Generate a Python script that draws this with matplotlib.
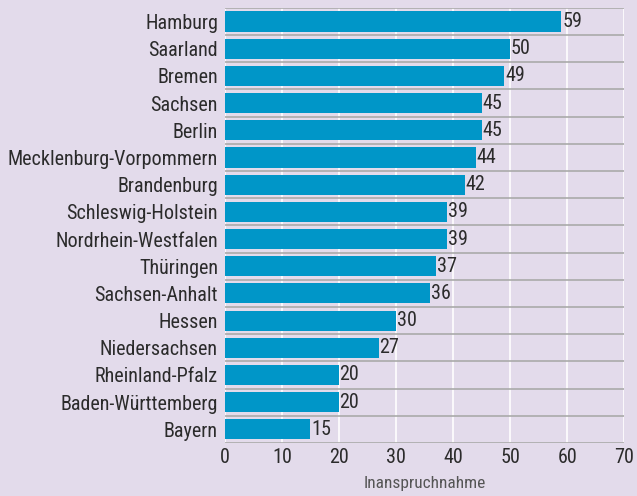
import matplotlib
matplotlib.use("Agg")
import matplotlib.pyplot as plt

states = ["Hamburg", "Saarland", "Bremen", "Sachsen", "Berlin",
          "Mecklenburg-Vorpommern", "Brandenburg", "Schleswig-Holstein",
          "Nordrhein-Westfalen", "Thüringen", "Sachsen-Anhalt", "Hessen",
          "Niedersachsen", "Rheinland-Pfalz", "Baden-Württemberg", "Bayern"]
values = [59, 50, 49, 45, 45, 44, 42, 39, 39, 37, 36, 30, 27, 20, 20, 15]
x_ticks = [0, 10, 20, 30, 40, 50, 60, 70]
x_label = "Inanspruchnahme"

plt.rcParams["font.family"] = ["Roboto Condensed", "DejaVu Sans"]

bg = "#e3dbeb"
bar_color = "#0096c8"
text_color = "#2b2b2b"

fig = plt.figure(figsize=(6.37, 4.96), dpi=100, facecolor=bg)
ax = fig.add_axes([0.353, 0.107, 0.627, 0.877], facecolor=bg)

n = len(states)
pos = list(range(n))
ax.barh(pos, values, height=0.74, color=bar_color, zorder=3)

for p, v in zip(pos, values):
    ax.text(v + 0.1, p, str(v), va="center", ha="left", fontsize=14.5,
            color=text_color, zorder=4)

ax.set_xlim(0, 70)
ax.set_ylim(n - 0.5, -0.5)
ax.set_xticks(x_ticks)
ax.set_xticklabels([str(t) for t in x_ticks], fontsize=14.5, color=text_color)
ax.set_yticks(pos)
ax.set_yticklabels(states, fontsize=14.5, color=text_color)
ax.tick_params(axis="y", length=0, pad=5)
ax.tick_params(axis="x", length=0, pad=4)

for t in x_ticks:
    ax.axvline(t, color="white", lw=1.2, zorder=1)
for b in range(n + 1):
    ax.axhline(b - 0.5, color="#aaaaaa", lw=1.2, zorder=2)

for s in ax.spines.values():
    s.set_visible(False)

ax.set_xlabel(x_label, fontsize=12.5, color="#555555", labelpad=6)

fig.savefig("out.png", dpi=100, facecolor=bg)
